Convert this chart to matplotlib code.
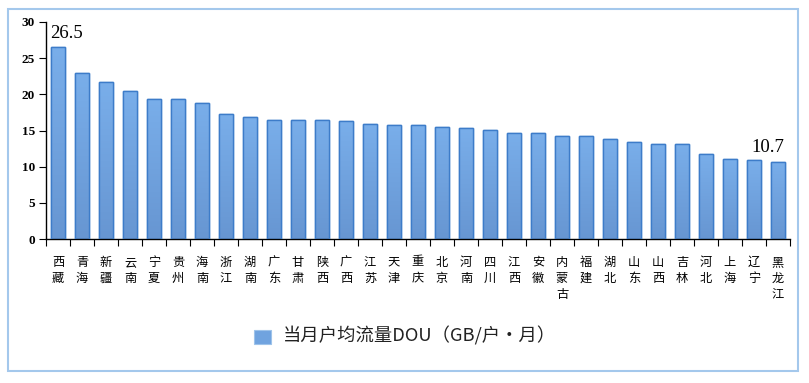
import numpy as np
import matplotlib
matplotlib.use("Agg")
import matplotlib.pyplot as plt
from matplotlib.patches import Rectangle
from matplotlib.colors import LinearSegmentedColormap

provinces = ["西藏", "青海", "新疆", "云南", "宁夏", "贵州", "海南", "浙江", "湖南", "广东",
             "甘肃", "陕西", "广西", "江苏", "天津", "重庆", "北京", "河南", "四川", "江西",
             "安徽", "内蒙古", "福建", "湖北", "山东", "山西", "吉林", "河北", "上海", "辽宁", "黑龙江"]
dou = [26.5, 23.0, 21.7, 20.5, 19.4, 19.4, 18.8, 17.3, 16.9, 16.5,
       16.5, 16.5, 16.3, 15.9, 15.7, 15.7, 15.5, 15.3, 15.1, 14.7,
       14.7, 14.3, 14.3, 13.8, 13.4, 13.2, 13.2, 11.8, 11.1, 10.9, 10.7]
yticks = [0, 5, 10, 15, 20, 25, 30]
legend_label = "当月户均流量DOU（GB/户•月）"

cjk = ["Noto Sans CJK SC", "DejaVu Sans"]
serif = ["Liberation Serif", "DejaVu Serif"]

W, H = 809, 383
fig = plt.figure(figsize=(W / 100, H / 100), dpi=100)
ax = fig.add_axes([46 / W, 1 - 239 / H, (790 - 46) / W, (239 - 22) / H])

x = np.arange(len(provinces))
bars = ax.bar(x, dou, width=0.6, color="#70a3df", edgecolor="#3d7cc9", linewidth=1.0, zorder=2)

grad = np.linspace(0, 1, 100).reshape(-1, 1)
cmap = LinearSegmentedColormap.from_list("g", ["#6796d2", "#79aeea"])
for b in bars:
    x0, w, h = b.get_x(), b.get_width(), b.get_height()
    im = ax.imshow(grad, extent=[x0, x0 + w, 0, h], origin="lower", cmap=cmap,
                   aspect="auto", zorder=2.5)
    im.set_clip_path(b)
    ax.add_patch(Rectangle((x0, 0), w, h, fill=False, edgecolor="#3d7cc9", linewidth=1.0, zorder=3))

ax.set_xlim(-0.5, len(provinces) - 0.5)
ax.set_ylim(0, 30)

for s in ["top", "right"]:
    ax.spines[s].set_visible(False)
for s in ["left", "bottom"]:
    ax.spines[s].set_color("black")
    ax.spines[s].set_linewidth(1.0)

ax.set_yticks(yticks)
ax.set_yticklabels([str(v) for v in yticks], fontfamily=serif, fontsize=9.5, fontweight="bold")
ax.tick_params(axis="y", direction="out", length=5, width=0.8, pad=3)

ax.set_xticks(np.arange(-0.5, len(provinces), 1))
ax.set_xticklabels([])
ax.tick_params(axis="x", which="major", direction="out", length=5, width=0.8)
ax.set_xticks(x, minor=True)
ax.set_xticklabels(["\n".join(p) for p in provinces], minor=True, fontfamily=cjk,
                   fontsize=8.8, linespacing=1.3, va="top")
ax.tick_params(axis="x", which="minor", length=0, pad=12)

ax.text(x[0] - 0.33, 28.4, f"{dou[0]:.1f}", fontfamily=serif, fontsize=13.5, ha="left", va="center")
ax.text(x[-1] + 0.25, 12.7, f"{dou[-1]:.1f}", fontfamily=serif, fontsize=13.5, ha="right", va="center")

fig.patches.append(Rectangle((254 / W, 1 - 344 / H), 17 / W, 14 / H, transform=fig.transFigure,
                             facecolor="#70a3df", edgecolor="#9ec3ea", linewidth=0.8))
fig.text(283 / W, 1 - 336 / H, legend_label, fontfamily=cjk, fontsize=13.2, ha="left", va="center",
         color="#222222")

fig.patches.append(Rectangle((8 / W, 1 - 371 / H), 790 / W, 362 / H, transform=fig.transFigure,
                             fill=False, edgecolor="#a4c8ec", linewidth=1.5))

fig.savefig("out.png", dpi=100)
